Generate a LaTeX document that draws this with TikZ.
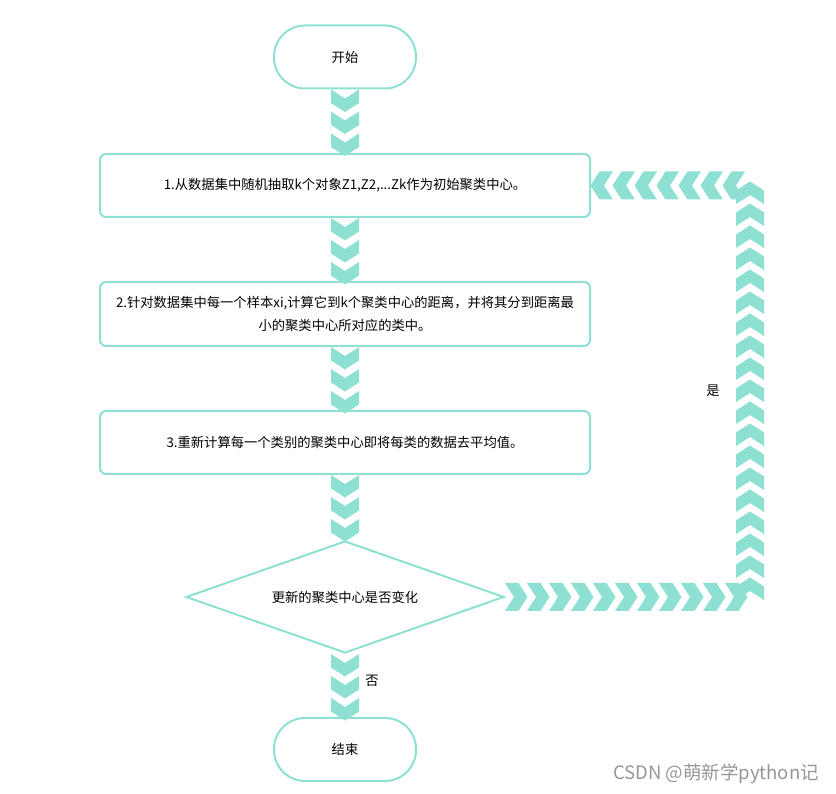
\documentclass[tikz,border=0pt]{standalone}
\usepackage{fontspec}
\setmainfont{Noto Sans CJK SC}
\usetikzlibrary{shapes.geometric,calc}
\definecolor{teal}{RGB}{142,224,210}
\definecolor{wm}{RGB}{150,150,150}
\tikzset{
  chevfill/.style={fill=teal},
  term/.style={draw=teal, line width=2pt, rectangle, rounded corners=31pt,
    minimum width=142pt, minimum height=63pt, font=\fontsize{13.3}{23}\selectfont},
  procbox/.style={draw=teal, line width=2pt, rectangle, rounded corners=6pt,
    minimum width=490pt, minimum height=63pt, align=center, font=\fontsize{13.3}{23}\selectfont},
  decide/.style={draw=teal, line width=2pt, diamond, aspect=2.84, inner sep=0pt,
    minimum width=318pt, minimum height=112pt, font=\fontsize{13.3}{23}\selectfont},
  lbl/.style={font=\fontsize{13.3}{16}\selectfont}
}
% #1 start coordinate, #2 direction angle, #3 number of chevrons
\newcommand\chevrow[3]{%
  \foreach \i in {1,...,#3}{%
    \fill[chevfill, shift={($#1+(#2:{(\i-1)*22})$)}, rotate=#2]
      (0,14) -- (9,0) -- (0,-14) -- (13.5,-14) -- (22.5,0) -- (13.5,14) -- cycle;
  }%
}
\begin{document}
\begin{tikzpicture}[x=1pt,y=1pt]
\useasboundingbox (0,0) rectangle (836,794);
\node[term] (start) at (345,737) {开始};
\node[procbox] (b1) at (345,608.5) {1.从数据集中随机抽取k个对象Z1,Z2,...Zk作为初始聚类中心。};
\node[procbox, minimum height=64pt] (b2) at (345,480) {2.针对数据集中每一个样本xi,计算它到k个聚类中心的距离，并将其分到距离最\\小的聚类中心所对应的类中。};
\node[procbox] (b3) at (345,351.5) {3.重新计算每一个类别的聚类中心即将每类的数据去平均值。};
\node[decide] (dia) at (345,197) {更新的聚类中心是否变化};
\node[term] (end) at (345,44.5) {结束};
\coordinate (c1) at (750,194);
\coordinate (c2) at ($(b1.east)+(154,0)$);

\chevrow{(start.south)}{-90}{3}
\chevrow{(b1.south)}{-90}{3}
\chevrow{(b2.south)}{-90}{3}
\chevrow{(b3.south)}{-90}{3}
\chevrow{(dia.south)}{-90}{3}
\chevrow{(dia.east)}{0}{11}
\chevrow{(c1)}{90}{19}
\chevrow{(c2)}{180}{7}

\node[lbl] (yes) at (713,403) {是};
\node[lbl] (no) at (372,113) {否};
\node[font=\fontsize{18.5}{20}\selectfont, text=wm] (mark) at (716,20) {CSDN @萌新学python记};
\end{tikzpicture}
\end{document}
